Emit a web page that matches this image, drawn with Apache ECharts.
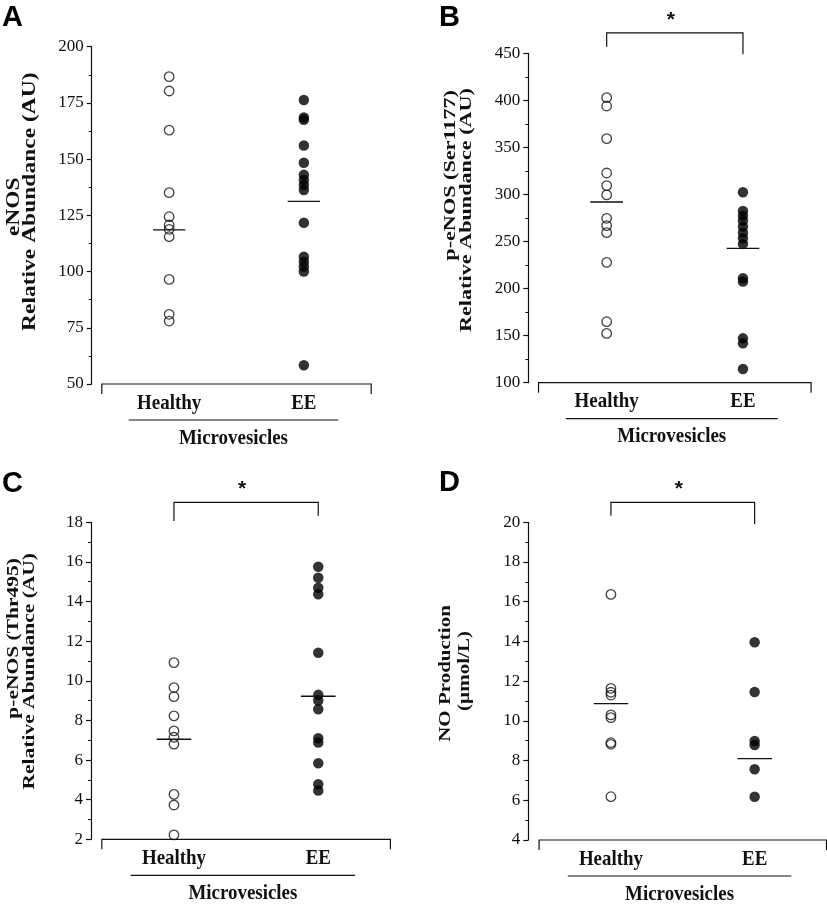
<!DOCTYPE html>
<html><head><meta charset="utf-8">
<script src="https://cdn.jsdelivr.net/npm/echarts@6/dist/echarts.min.js"></script>
<style>html,body{margin:0;padding:0;background:#fff}#c{width:827px;height:908px}</style>
</head><body><div id="c"></div>
<script>
// ---------- data ----------
const categories = ['Healthy', 'EE'];
const groupLabel = 'Microvesicles';
const panelLetters = ['A', 'B', 'C', 'D'];

const titlesA = ['eNOS', 'Relative Abundance (AU)'];
const titlesB = ['p-eNOS (Ser1177)', 'Relative Abundance (AU)'];
const titlesC = ['p-eNOS (Thr495)', 'Relative Abundance (AU)'];
const titlesD = ['NO Production', '(\u00b5mol/L)'];

const ticksA = [50, 75, 100, 125, 150, 175, 200];
const ticksB = [100, 150, 200, 250, 300, 350, 400, 450];
const ticksC = [2, 4, 6, 8, 10, 12, 14, 16, 18];
const ticksD = [4, 6, 8, 10, 12, 14, 16, 18, 20];

const healthyA = [186.7, 180.3, 162.9, 135.1, 124.4, 120.7, 118.8, 115.5, 96.5, 81.0, 78.0];
const eeA = [176.3, 168.5, 167.5, 156.1, 148.4, 143.0, 140.7, 138.5, 136.3, 121.7, 106.6, 104.4, 102.2, 100.0, 58.3];
const centerA = [118.5, 131.2];

const healthyB = [402.9, 394.0, 359.3, 322.8, 309.4, 299.5, 274.7, 266.9, 259.4, 227.9, 164.8, 152.4];
const eeB = [302.3, 282.4, 277.5, 272.0, 265.8, 259.4, 253.4, 247.5, 210.9, 207.4, 147.1, 141.8, 114.5];
const centerB = [292.0, 242.8];

const healthyC = [10.92, 9.66, 9.2, 8.23, 7.47, 7.15, 6.8, 4.27, 3.73, 2.22];
const eeC = [15.76, 15.2, 14.7, 14.37, 11.42, 9.29, 9.0, 8.56, 7.1, 6.88, 5.84, 4.78, 4.46];
const centerC = [7.05, 9.22];

const healthyD = [16.37, 11.64, 11.44, 11.3, 10.3, 10.16, 8.9, 8.82, 6.18];
const eeD = [13.96, 11.45, 8.99, 8.78, 7.56, 6.18];
const centerD = [10.87, 8.1];

const significant = [false, true, true, true];

// ---------- layout / style ----------
const INK = '#111';
const LABEL_FONT = 'bold 22px "Liberation Serif"';
const LABEL_SCALE = 0.86;
const panels = [
  { grid: { left: 91.7, top: 46.7, width: 279.5, height: 337.3 }, ticks: ticksA, healthy: healthyA, ee: eeA, center: centerA, titles: titlesA,
    titleSize: 23.5, titlePos: [[14, 206.7, 'center'], [30, 201.7, 'center']], letterPos: [2, 18], sig: null },
  { grid: { left: 528.3, top: 53.3, width: 282.8, height: 329.4 }, ticks: ticksB, healthy: healthyB, ee: eeB, center: centerB, titles: titlesB,
    titleSize: 22.2, titlePos: [[450, 90, 'right'], [466, 88, 'right']], letterPos: [439, 18], sig: { top: -20.5, l: -6.6, r: 1 } },
  { grid: { left: 91, top: 522.3, width: 299.4, height: 317 }, ticks: ticksC, healthy: healthyC, ee: eeC, center: centerC, titles: titlesC,
    titleSize: 21.5, titlePos: [[14, 558, 'right'], [30, 553, 'right']], letterPos: [2, 484], sig: { top: -20, l: -1.3, r: -6.6 } },
  { grid: { left: 528.3, top: 522.3, width: 298.2, height: 317.7 }, ticks: ticksD, healthy: healthyD, ee: eeD, center: centerD, titles: titlesD,
    titleSize: 21, titlePos: [[446, 673.5, 'center'], [464.5, 671, 'center']], letterPos: [439, 483], sig: { top: -20, l: -6.6, r: 1.7 } }
];

function makeDecor(cfg, idx) {
  return function (params, api) {
    const ymin = cfg.ticks[0], ymax = cfg.ticks[cfg.ticks.length - 1];
    const ls = { stroke: INK, lineWidth: 1.2, fill: null };
    const ch = [];
    const L = api.coord([0.5, ymin]), R = api.coord([2.5, ymin]);
    ch.push({ type: 'polyline', shape: { points: [[L[0], L[1] + 10], [L[0], L[1]], [R[0], R[1]], [R[0], R[1] + 10]] }, style: ls });
    categories.forEach(function (c, i) {
      const p = api.coord([i + 1, ymin]);
      ch.push({ type: 'text', x: p[0], y: p[1] + 19, scaleX: LABEL_SCALE,
        style: { text: c, font: LABEL_FONT, textAlign: 'center', textVerticalAlign: 'middle', fill: INK } });
    });
    const g1 = api.coord([0.70, ymin]), g2 = api.coord([2.255, ymin]);
    ch.push({ type: 'line', shape: { x1: g1[0], y1: g1[1] + 36, x2: g2[0], y2: g2[1] + 36 }, style: ls });
    ch.push({ type: 'text', x: (g1[0] + g2[0]) / 2, y: g1[1] + 54, scaleX: LABEL_SCALE,
      style: { text: groupLabel, font: LABEL_FONT, textAlign: 'center', textVerticalAlign: 'middle', fill: INK } });
    cfg.center.forEach(function (v, i) {
      const a = api.coord([i + 1 - 0.12, v]), b = api.coord([i + 1 + 0.12, v]);
      ch.push({ type: 'line', shape: { x1: a[0], y1: a[1], x2: b[0], y2: b[1] }, style: { stroke: INK, lineWidth: 1.3 } });
    });
    if (significant[idx] && cfg.sig) {
      const t = api.coord([1, ymax]), u = api.coord([2, ymax]);
      const top = t[1] + cfg.sig.top;
      ch.push({ type: 'polyline', shape: { points: [[t[0], t[1] + cfg.sig.l], [t[0], top], [u[0], top], [u[0], u[1] + cfg.sig.r]] }, style: ls });
      ch.push({ type: 'text', x: (t[0] + u[0]) / 2 - 4, y: top - 13, style: { text: '*', font: 'bold 21px "Liberation Sans"', textAlign: 'center', textVerticalAlign: 'middle', fill: INK } });
    }
    return { type: 'group', children: ch };
  };
}

const option = { animation: false, backgroundColor: '#fff', grid: [], xAxis: [], yAxis: [], series: [], graphic: [] };

panels.forEach(function (p, i) {
  option.grid.push(Object.assign({ containLabel: false }, p.grid));
  option.xAxis.push({ gridIndex: i, type: 'value', min: 0.425, max: 2.5, show: false });
  option.yAxis.push({
    gridIndex: i, type: 'value', min: p.ticks[0], max: p.ticks[p.ticks.length - 1], interval: p.ticks[1] - p.ticks[0],
    axisLine: { show: true, lineStyle: { color: INK, width: 1.2 } },
    axisTick: { show: true, inside: false, length: 5, lineStyle: { color: INK, width: 1.2 } },
    minorTick: { show: true, splitNumber: 2, length: 3, lineStyle: { color: INK, width: 1 } },
    axisLabel: { color: INK, fontFamily: 'Liberation Serif', fontSize: 17, margin: 8 },
    splitLine: { show: false }
  });
  option.series.push({
    type: 'scatter', xAxisIndex: i, yAxisIndex: i, symbol: 'circle', symbolSize: 9.5,
    data: p.healthy.map(function (v) { return [1, v]; }),
    itemStyle: { color: 'rgba(255,255,255,0)', borderColor: INK, borderWidth: 1.3 }, clip: false
  });
  option.series.push({
    type: 'scatter', xAxisIndex: i, yAxisIndex: i, symbol: 'circle', symbolSize: 10.5,
    data: p.ee.map(function (v) { return [2, v]; }),
    itemStyle: { color: '#000', borderWidth: 0 }, clip: false
  });
  option.series.push({
    type: 'custom', xAxisIndex: i, yAxisIndex: i, silent: true, z: 5,
    data: [[1, p.ticks[0]]], renderItem: makeDecor(p, i)
  });
  p.titles.forEach(function (t, k) {
    const tp = p.titlePos[k];
    option.graphic.push({ type: 'text', x: tp[0], y: tp[1], rotation: Math.PI / 2, scaleY: 0.8,
      style: { text: t, font: 'bold ' + p.titleSize + 'px "Liberation Serif"', textAlign: tp[2], textVerticalAlign: 'middle', fill: INK } });
  });
  option.graphic.push({ type: 'text', x: p.letterPos[0], y: p.letterPos[1],
    style: { text: panelLetters[i], font: 'bold 29px "Liberation Sans"', textAlign: 'left', textVerticalAlign: 'middle', fill: '#000' } });
});

const chart = echarts.init(document.getElementById('c'), null, { renderer: 'canvas' });
chart.setOption(option);
</script>
</body></html>
